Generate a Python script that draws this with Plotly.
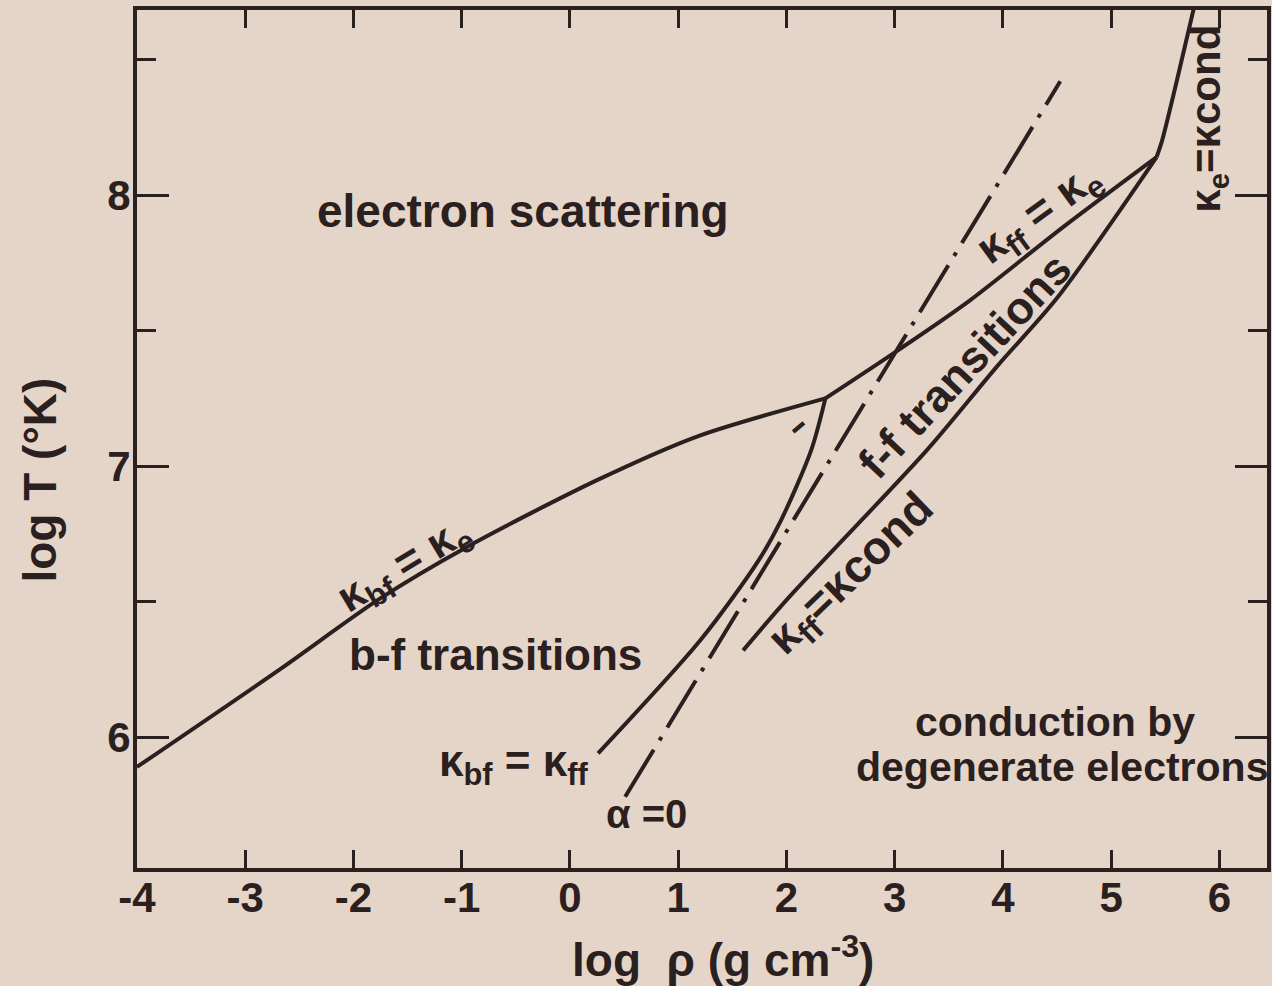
import plotly.graph_objects as go

# ---------------- data (log rho [g cm^-3], log T [K]) ----------------
kbf_ke_logrho = [-4.0, -2.68, -1.76, -0.96, 0.26, 1.18, 2.36]
kbf_ke_logT = [5.89, 6.25, 6.51, 6.70, 6.95, 7.11, 7.25]

kff_ke_logrho = [2.36, 3.04, 3.69, 4.55, 5.42]
kff_ke_logT = [7.25, 7.43, 7.61, 7.88, 8.14]

kbf_kff_logrho = [2.36, 2.23, 1.95, 1.74, 1.21, 0.26]
kbf_kff_logT = [7.25, 7.06, 6.80, 6.65, 6.36, 5.94]

alpha0_logrho = [0.51, 4.53]
alpha0_logT = [5.78, 8.42]

kff_kcond_logrho = [1.60, 2.01, 3.30, 3.95, 4.50, 5.42]
kff_kcond_logT = [6.32, 6.51, 7.06, 7.37, 7.62, 8.14]

ke_kcond_logrho = [5.42, 5.47, 5.60, 5.77]
ke_kcond_logT = [8.14, 8.20, 8.41, 8.70]

xtick_vals = [-4, -3, -2, -1, 0, 1, 2, 3, 4, 5, 6]
xtick_text = ["-4", "-3", "-2", "-1", "0", "1", "2", "3", "4", "5", "6"]
ytick_vals = [6, 7, 8]
ytick_text = ["6", "7", "8"]
yminor_vals = [6.5, 7.5, 8.5]

# ---------------- style ----------------
INK = "#2a2020"
BG = "#e5d5c9"
FONT = "Liberation Sans"
LW = 4

fig = go.Figure()

def add_curve(x, y, shape="linear", dash="solid"):
    fig.add_trace(go.Scatter(
        x=x, y=y, mode="lines",
        line=dict(color=INK, width=LW, shape=shape, dash=dash,
                  smoothing=0.8 if shape == "spline" else None),
        hoverinfo="skip", showlegend=False))

add_curve(kbf_ke_logrho, kbf_ke_logT, "spline")
add_curve(kff_ke_logrho, kff_ke_logT, "spline")
add_curve(kbf_kff_logrho, kbf_kff_logT, "spline")
add_curve(alpha0_logrho, alpha0_logT, dash="55px,11px,4px,11px")
add_curve(kff_kcond_logrho, kff_kcond_logT, "spline")
add_curve(ke_kcond_logrho, ke_kcond_logT, "spline")

def label(text, x, y, size=46, angle=0, xref="x", yref="y", weight="bold"):
    fig.add_annotation(text=text, x=x, y=y, xref=xref, yref=yref,
                       showarrow=False, textangle=angle,
                       xanchor="center", yanchor="middle",
                       font=dict(family=FONT, size=size, color=INK, weight=weight))

label("electron scattering", -0.43, 7.94)
label("b-f transitions", -0.685, 6.306, size=44)
label("f-f transitions", 3.65, 7.37, size=45, angle=-47)
label("conduction by", 4.48, 6.055, size=41)
label("degenerate electrons", 4.545, 5.889, size=41)

label("κ<sub>bf</sub> = κ<sub>e</sub>", -1.53, 6.63, size=44, angle=-31)
label("κ<sub>ff</sub> = κ<sub>e</sub>", 4.33, 7.93, size=45, angle=-36)
label("κ<sub>ff</sub>=κcond", 2.61, 6.60, size=46, angle=-44)
label("κ<sub>e</sub>=κcond", 5.90, 8.28, size=42, angle=-90)
label("κ<sub>bf</sub> = κ<sub>ff</sub>", -0.52, 5.90, size=44)
label("α =0", 0.705, 5.716, size=40)
label("▬", 2.10, 7.15, size=14, angle=-40)

label("log T (°K)", -0.0855, 0.452, size=46, angle=-90, xref="paper", yref="paper")
label("log  ρ (g cm<sup>-3</sup>)", 1.414, -0.104, size=46, yref="paper")

axis_common = dict(
    showline=True, linewidth=LW, linecolor=INK, mirror="ticks",
    ticks="inside", tickcolor=INK, tickwidth=3,
    showgrid=False, zeroline=False,
    tickfont=dict(family=FONT, size=42, color=INK, weight="bold"),
)

fig.update_xaxes(range=[-4, 6.44], tickmode="array", tickvals=xtick_vals,
                 ticktext=xtick_text, ticklen=18, ticklabelstandoff=-10,
                 **axis_common)
fig.update_yaxes(range=[5.517, 8.683], tickmode="array", tickvals=ytick_vals,
                 ticktext=ytick_text, ticklen=32, ticklabelstandoff=-6,
                 minor=dict(tickmode="array", tickvals=yminor_vals, ticks="inside",
                            ticklen=19, tickwidth=3, tickcolor=INK, showgrid=False),
                 **axis_common)

fig.update_layout(
    width=1272, height=986,
    margin=dict(l=137, r=1, t=10, b=118),
    paper_bgcolor=BG, plot_bgcolor=BG,
    showlegend=False,
)

fig.write_html(
    "out.html",
    config={"displayModeBar": False},
    post_script=f"document.body.style.margin='0px'; document.body.style.background='{BG}';",
)
